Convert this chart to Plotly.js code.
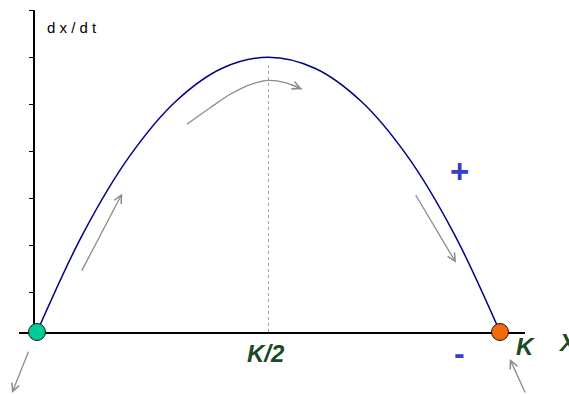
<!DOCTYPE html>
<html>
<head>
<meta charset="utf-8">
<script src="https://cdn.plot.ly/plotly-3.0.1.min.js"></script>
<style>
  html, body { margin: 0; padding: 0; background: #fff; }
  #plot { width: 569px; height: 394px; }
</style>
</head>
<body>
<div id="plot"></div>
<script>
    // population x (0..K) and growth rate dx/dt
    const K = 100;
    const popX = [0, 10, 20, 30, 40, 50, 60, 70, 80, 90, 100];
    const rateY = [0, 9, 16, 21, 24, 25, 24, 21, 16, 9, 0];

    // equilibrium points: x = 0 (unstable) and x = K (stable)
    const eqX = [0, K];
    const eqY = [0, 0];
    const eqColors = ['#00cc99', '#f26a0c'];

    // dotted line under the maximum at K/2
    const halfX = [K / 2, K / 2];
    const halfY = [0, 24.5];

    // curved flow arrow near the top
    const flowX = [32.4, 37.4, 42, 46.7, 50, 53.6, 57.2];
    const flowY = [18.9, 20.4, 21.7, 22.6, 22.9, 22.7, 22.1];

    const grey = '#8c8c8c';
    const green = '#1b4a25';
    const blue = '#3b3bcc';
    const font = 'Liberation Sans, Arial, sans-serif';

    function arrow(x, y, ax, ay, ref) {
        var a = {
            x: x, y: y, ax: ax, ay: ay, text: '',
            showarrow: true, arrowhead: 5, arrowsize: 1.2, arrowwidth: 1.3,
            arrowcolor: grey
        };
        if (ref === 'data') {
            a.xref = 'x'; a.yref = 'y'; a.axref = 'x'; a.ayref = 'y';
        } else {
            a.xref = 'paper'; a.yref = 'paper'; // ax, ay in pixels
        }
        return a;
    }

    function label(text, x, y, size, color, opts) {
        return Object.assign({
            text: text, x: x, y: y, xref: 'paper', yref: 'paper',
            xanchor: 'center', yanchor: 'middle',
            showarrow: false, font: { family: font, size: size, color: color }
        }, opts || {});
    }

    const traces = [
        {
            x: halfX, y: halfY, type: 'scatter', mode: 'lines',
            line: { color: '#a0a0a0', width: 1, dash: 'dot' }, hoverinfo: 'skip'
        },
        {
            x: popX, y: rateY, type: 'scatter', mode: 'lines',
            line: { color: '#000088', width: 1.5, shape: 'spline' }, cliponaxis: false
        },
        {
            x: flowX, y: flowY, type: 'scatter', mode: 'lines',
            line: { color: grey, width: 1.3, shape: 'spline' }
        },
        {
            x: eqX, y: eqY, type: 'scatter', mode: 'markers', cliponaxis: false,
            marker: { size: 17, color: eqColors, line: { color: '#1a1a1a', width: 1 } }
        }
    ];

    const annotations = [
        arrow(18.4, 12.6, 9.5, 5.45, 'data'),
        arrow(57.2, 22.1, 54.5, 22.6, 'data'),
        arrow(90.5, 6.3, 81.6, 12.6, 'data'),
        arrow(-0.0138, -0.193, 17, -44),
        arrow(0.970, -0.084, 16, 35),
        label('d x / d t', 0.051, 0.947, 15, '#000', { xanchor: 'left' }),
        label('<b>+</b>', 0.870, 0.497, 33, blue),
        label('<b>-</b>', 0.870, -0.064, 32, blue),
        label('<b><i>K/2</i></b>', 0.489, -0.068, 24, green),
        label('<b><i>K</i></b>', 1.0, -0.046, 24, green),
        label('<b><i>X</i></b>', 1.062, -0.032, 24, green, { xanchor: 'left' })
    ];

    const layout = {
        width: 569, height: 394,
        margin: { l: 19, r: 44, t: 10, b: 62 },
        paper_bgcolor: '#fff', plot_bgcolor: '#fff',
        showlegend: false,
        xaxis: {
            range: [-3.89, 105.4], showgrid: false, zeroline: false,
            showline: true, linecolor: '#000', linewidth: 1.5,
            ticks: '', showticklabels: false, layer: 'below traces'
        },
        yaxis: {
            range: [0, 29.3], anchor: 'free', position: 0.0277,
            showgrid: false, zeroline: false,
            showline: true, linecolor: '#000', linewidth: 1.5,
            ticks: 'outside', ticklen: 4, tickwidth: 1, tickcolor: '#000',
            tickmode: 'linear', tick0: 25, dtick: 4.2727,
            showticklabels: false, layer: 'below traces'
        },
        annotations: annotations
    };

    Plotly.newPlot('plot', traces, layout, { staticPlot: true });
</script>
</body>
</html>
